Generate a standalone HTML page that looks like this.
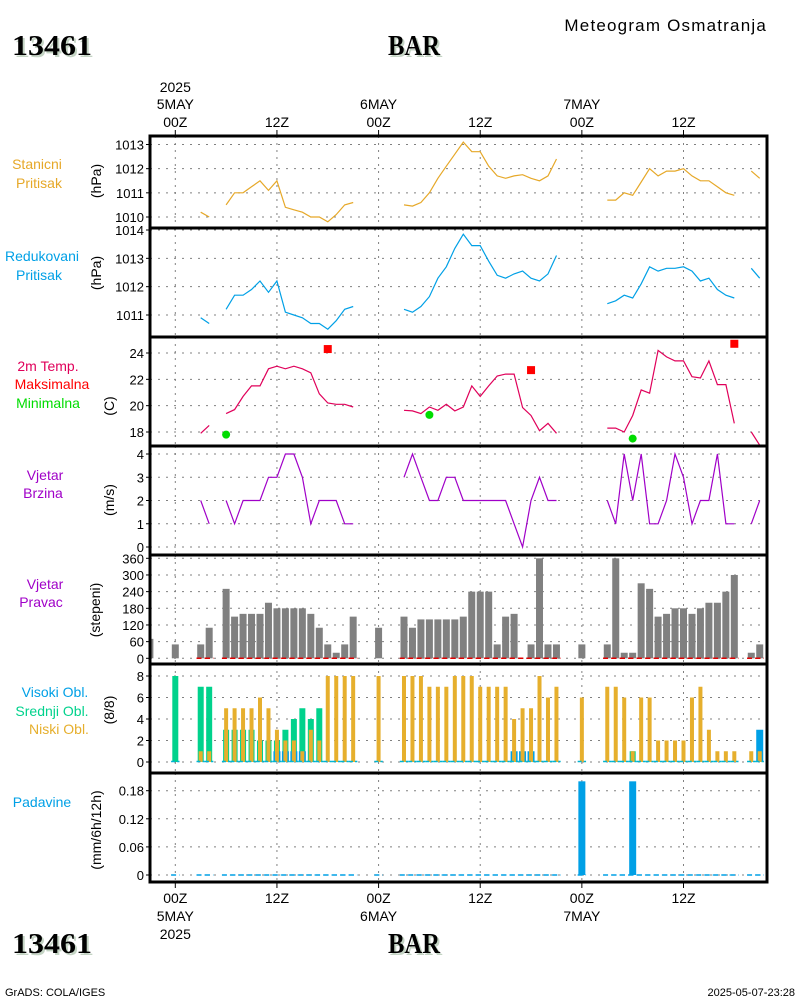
<!DOCTYPE html>
<html><head><meta charset="utf-8"><style>
html,body{margin:0;padding:0;background:#fff;}
svg{display:block;font-family:"Liberation Sans",sans-serif;}
</style></head><body>
<svg id="chart" width="800" height="1000" viewBox="0 0 800 1000" xmlns="http://www.w3.org/2000/svg">
<rect x="0" y="0" width="800" height="1000" fill="#fff"/>
<text x="767" y="31" text-anchor="end" font-size="17" letter-spacing="1.2">Meteogram Osmatranja</text>
<g font-family="Liberation Serif,serif" font-weight="bold" font-size="29">
<text x="14" y="57" fill="#c4d4c4" textLength="80" lengthAdjust="spacingAndGlyphs">13461</text><text x="12" y="55" fill="#000" textLength="80" lengthAdjust="spacingAndGlyphs">13461</text>
<text x="390" y="57" fill="#c4d4c4" textLength="52" lengthAdjust="spacingAndGlyphs">BAR</text><text x="388" y="55" fill="#000" textLength="52" lengthAdjust="spacingAndGlyphs">BAR</text>
</g>
<g font-family="Liberation Serif,serif" font-weight="bold" font-size="29">
<text x="14" y="955" fill="#c4d4c4" textLength="80" lengthAdjust="spacingAndGlyphs">13461</text><text x="12" y="953" fill="#000" textLength="80" lengthAdjust="spacingAndGlyphs">13461</text>
<text x="390" y="955" fill="#c4d4c4" textLength="52" lengthAdjust="spacingAndGlyphs">BAR</text><text x="388" y="953" fill="#000" textLength="52" lengthAdjust="spacingAndGlyphs">BAR</text>
</g>
<text x="5" y="996" font-size="11">GrADS: COLA/IGES</text>
<text x="795" y="996" text-anchor="end" font-size="11">2025-05-07-23:28</text>
<g id="plot"></g>
</svg>
<script>
// ---- data (hourly, index = hours since 2025-05-05 00Z, starting at hourStart) ----
const hourStart = -3;
const stnPress = [null,null,null, null,null,null,1010.2,1010.0,null,1010.5,1011.0,1011.0,1011.25,1011.5,1011.1,1011.5,1010.4,1010.3,1010.2,1010.0,1010.0,1009.8,1010.1,1010.5,1010.6,null,null,null,null,null,1010.5,1010.45,1010.6,1011.0,1011.6,1012.1,1012.6,1013.1,1012.7,1012.7,1012.1,1011.7,1011.6,1011.7,1011.75,1011.6,1011.5,1011.7,1012.4,null,null,null,null,null,1010.7,1010.7,1011.0,1010.9,1011.45,1012.0,1011.7,1011.9,1011.9,1012.0,1011.7,1011.5,1011.5,1011.25,1011.0,1010.9,null,1011.9,1011.6];
const redPress = [null,null,null, null,null,null,1010.9,1010.7,null,1011.2,1011.7,1011.7,1011.9,1012.2,1011.8,1012.2,1011.1,1011.0,1010.9,1010.7,1010.7,1010.5,1010.8,1011.2,1011.3,null,null,null,null,null,1011.2,1011.1,1011.3,1011.65,1012.3,1012.7,1013.35,1013.85,1013.45,1013.45,1012.9,1012.4,1012.3,1012.45,1012.55,1012.3,1012.2,1012.45,1013.1,null,null,null,null,null,1011.4,1011.5,1011.7,1011.6,1012.1,1012.7,1012.55,1012.65,1012.65,1012.7,1012.55,1012.2,1012.3,1011.9,1011.7,1011.6,null,1012.65,1012.3];
const temp2m = [null,null,null, null,null,null,17.9,18.5,null,19.4,19.7,20.7,21.5,21.5,22.8,23.0,22.8,23.0,22.8,22.5,20.9,20.2,20.1,20.1,19.9,null,null,null,null,null,19.65,19.6,19.4,19.9,19.65,20.1,19.6,19.9,21.5,20.7,21.5,22.25,22.4,22.4,19.85,19.25,18.1,18.65,17.9,null,null,null,null,null,18.3,18.3,18.0,19.25,21.2,20.95,24.2,23.7,23.4,23.4,22.2,22.1,23.4,21.6,21.6,18.65,null,18.0,17.0];
const tmaxHours = [18,42,66];
const tmaxValues = [24.3,22.7,24.7];
const tminHours = [6,30,54];
const tminValues = [17.8,19.3,17.5];
const windSpeed = [null,null,null, null,null,null,2,1,null,2,1,2,2,2,3,3,4,4,3,1,2,2,2,1,1,null,null,null,null,null,3,4,3,2,2,3,3,2,2,2,2,2,2,1,0,2,3,2,2,null,null,null,null,null,2,1,4,2,4,1,1,2,4,3,1,2,2,4,1,1,null,1,2];
const windDir = [70,null,null, 50,null,null,50,110,null,250,150,160,160,160,200,180,180,180,180,160,110,50,20,50,150,null,null,110,null,null,150,110,140,140,140,140,140,150,240,240,240,50,150,160,0,50,360,50,50,null,null,50,null,null,50,360,20,20,270,250,150,160,180,180,160,180,200,200,240,300,null,20,50];
const cloudLow = [null,null,null, 0,null,null,1,1,null,5,5,5,5,6,5,3,2,2,1,3,2,8,8,8,8,null,null,8,null,null,8,8,8,7,7,7,8,8,8,7,7,7,7,4,5,5,8,6,7,null,null,6,null,null,7,7,6,1,6,6,2,2,2,2,6,7,3,1,1,1,null,1,1];
const cloudMid = [null,null,null, 8,null,null,7,7,null,3,3,3,3,2,2,2,3,4,5,4,5,0,0,0,0,null,null,0,null,null,0,0,0,0,0,0,0,0,0,0,0,0,0,0,0,0,0,0,0,null,null,0,null,null,0,0,0,1,0,0,0,0,0,0,0,0,0,0,0,0,null,0,0];
const cloudHigh = [null,null,null, 0,null,null,0,0,null,0,0,0,0,0,0,1,1,1,1,0,0,0,0,0,0,null,null,0,null,null,0,0,0,0,0,0,0,0,0,0,0,0,0,1,1,1,0,0,0,null,null,0,null,null,0,0,0,0,0,0,0,0,0,0,0,0,0,0,0,0,null,0,3];
const precipHours = [48,54];
const precipValues = [0.2,0.2];
const pressTicks = [1010,1011,1012,1013];
const redTicks = [1011,1012,1013,1014];
const tempTicks = [18,20,22,24];
const windTicks = [0,1,2,3,4];
const dirTicks = [0,60,120,180,240,300,360];
const cloudTicks = [0,2,4,6,8];
const precipTicks = [0,0.06,0.12,0.18];
const precipTickLabels = ["0","0.06","0.12","0.18"];
const timeTicks = [0,12,24,36,48,60];

// ---- layout ----
const NS="http://www.w3.org/2000/svg";
const plot=document.getElementById('plot');
const L=150,R=767;
const xOf=h=>175.3+8.47*h;
function mk(tag,attrs,parent){const e=document.createElementNS(NS,tag);for(const k in attrs)e.setAttribute(k,attrs[k]);(parent||plot).appendChild(e);return e;}
function lin(v0,y0,v1,y1){return v=>y0+(v-v0)*(y1-y0)/(v1-v0);}
const panels=[
 {name:'station-pressure',top:136,bot:228,y:lin(1010,217,1013,144.5),ticks:pressTicks},
 {name:'reduced-pressure',top:228,bot:337,y:lin(1011,315,1014,230),ticks:redTicks},
 {name:'temperature',top:337,bot:446,y:lin(18,432,24,353),ticks:tempTicks},
 {name:'wind-speed',top:446,bot:555,y:lin(0,547,4,454),ticks:windTicks},
 {name:'wind-direction',top:555,bot:664,y:lin(0,658.3,360,558.3),ticks:dirTicks},
 {name:'cloud-cover',top:664,bot:773,y:lin(0,762,8,676),ticks:cloudTicks},
 {name:'precipitation',top:773,bot:882,y:lin(0,875,0.18,790.7),ticks:precipTicks,labels:precipTickLabels}
];
const clip=mk('clipPath',{id:'pc'});mk('rect',{x:L,y:136,width:R-L,height:882-136},clip);
panels.forEach(p=>{
  const g=mk('g',{});
  
  
  p.ticks.forEach((t,i)=>{
    const y=p.y(t);
    mk('line',{x1:L,x2:R,y1:y,y2:y,stroke:'#808080','stroke-dasharray':'2,6','stroke-width':1},g);
    mk('line',{x1:L-4,x2:L,y1:y,y2:y,stroke:'#000'},g);
    const tx=mk('text',{x:L-6,y:y+5,'text-anchor':'end','font-size':13},g);
    tx.textContent=p.labels?p.labels[i]:String(t);
    
    
  });
  timeTicks.forEach(h=>{mk('line',{x1:xOf(h),x2:xOf(h),y1:p.top,y2:p.bot,stroke:'#808080','stroke-dasharray':'2,5'},g);});
});
const hOf=i=>i+hourStart;
function linePlot(arr,p,color,name){
  let d='';let pen=false;
  arr.forEach((v,i)=>{if(v==null){pen=false;return;}d+=(pen?'L':'M')+xOf(hOf(i)).toFixed(1)+','+p.y(v).toFixed(1);pen=true;});
  const e=mk('path',{d:d,fill:'none',stroke:color,'stroke-width':1.2});
  
  
}
linePlot(stnPress,panels[0],'#e6a828','station-pressure-line');
linePlot(redPress,panels[1],'#00a0e6','reduced-pressure-line');
linePlot(temp2m,panels[2],'#e0005a','temperature-line');
linePlot(windSpeed,panels[3],'#a000c8','wind-speed-line');
tmaxHours.forEach((h,i)=>{const e=mk('rect',{x:xOf(h)-4,y:panels[2].y(tmaxValues[i])-4,width:8,height:8,fill:'#f00'});
 
 });
tminHours.forEach((h,i)=>{const e=mk('circle',{cx:xOf(h),cy:panels[2].y(tminValues[i]),r:4,fill:'#00dc00'});
 
 });
// direction bars
const dg=mk('g',{'clip-path':'url(#pc)'});
windDir.forEach((v,i)=>{if(v==null)return;const p=panels[4];const y=p.y(v);
 const e=mk('rect',{x:xOf(hOf(i))-3.5,y:y,width:7,height:Math.max(0,p.y(0)-y),fill:'#808080'},dg);
 
 
 if(temp2m[i]!=null&&hOf(i)>=3){mk('line',{x1:xOf(hOf(i))-4.2,x2:xOf(hOf(i))+4.2,y1:p.y(0),y2:p.y(0),stroke:'#e00000','stroke-width':1.5,'stroke-dasharray':'5,3'},dg);}
});
// clouds
const cp=panels[5];
cloudLow.forEach((v,i)=>{if(v==null)return;const x=xOf(hOf(i));const y0=cp.y(0);
 const m=cloudMid[i],hi=cloudHigh[i];
 if(m>0){const e=mk('rect',{x:x-3,y:cp.y(m),width:6,height:y0-cp.y(m),fill:'#00d28c'});
  
  }
 if(hi>0){const e=mk('rect',{x:x-3.5,y:cp.y(hi),width:7,height:y0-cp.y(hi),fill:'#00a0e6'});
  
  }
 if(v>0){const e=mk('rect',{x:x-2,y:cp.y(v),width:4,height:y0-cp.y(v),fill:'#e6af2d'});
  
  }
 mk('line',{x1:x-4.2,x2:x+4.2,y1:y0-0.5,y2:y0-0.5,stroke:'#00b4d2','stroke-width':1.5,'stroke-dasharray':'4,2'});
 mk('line',{x1:x-4.2,x2:x+4.2,y1:panels[6].y(0),y2:panels[6].y(0),stroke:'#00a0e6','stroke-width':1.5,'stroke-dasharray':'5,3'});
});
precipHours.forEach((h,i)=>{const p=panels[6];const y=p.y(precipValues[i]);
 const e=mk('rect',{x:xOf(h)-3.5,y:y,width:7,height:p.y(0)-y,fill:'#00a0e6'});
 
 });
// frames
panels.forEach(p=>{mk('rect',{x:L,y:p.top,width:R-L,height:p.bot-p.top,fill:'none',stroke:'#000','stroke-width':3});});
// time axis labels
function tl(x,y,s,name){const e=mk('text',{x:x,y:y,'text-anchor':'middle','font-size':14});e.textContent=s;
 
 }
const topLbl=[["00Z","5MAY","2025"],["12Z"],["00Z","6MAY"],["12Z"],["00Z","7MAY"],["12Z"]];
timeTicks.forEach((h,i)=>{const x=xOf(h);const a=topLbl[i];
 tl(x,127,a[0],'top-time-label');if(a[1])tl(x,109,a[1],'top-date-label');if(a[2])tl(x,92,a[2],'top-year-label');
 tl(x,903,a[0],'bottom-time-label');if(a[1])tl(x,921,a[1],'bottom-date-label');if(a[2])tl(x,939,a[2],'bottom-year-label');
 mk('line',{x1:x,x2:x,y1:130,y2:136,stroke:'#000'});mk('line',{x1:x,x2:x,y1:882,y2:888,stroke:'#000'});
});
// left labels
function lab(x,y,s,c,name){const e=mk('text',{x:x,y:y,'text-anchor':'middle','font-size':14,fill:c});e.textContent=s;
 
 }
lab(37,169,'Stanicni','#e6a828','station-pressure-label');lab(39,188,'Pritisak','#e6a828','station-pressure-label');
lab(42,261,'Redukovani','#00a0e6','reduced-pressure-label');lab(39,280,'Pritisak','#00a0e6','reduced-pressure-label');
lab(48,371,'2m Temp.','#e0005a','temp-label');lab(52,389,'Maksimalna','#f00','max-temp-label');lab(48,408,'Minimalna','#00dc00','min-temp-label');
lab(45,480,'Vjetar','#a000c8','wind-speed-label');lab(43,498,'Brzina','#a000c8','wind-speed-label');
lab(45,589,'Vjetar','#a000c8','wind-dir-label');lab(41,607,'Pravac','#a000c8','wind-dir-label');
lab(55,697,'Visoki Obl.','#00a0e6','high-cloud-label');lab(52,716,'Srednji Obl.','#00d28c','mid-cloud-label');lab(59,734,'Niski Obl.','#e6af2d','low-cloud-label');
lab(42,807,'Padavine','#00a0e6','precip-label');
function unit(x,y,s,name){const e=mk('text',{x:x,y:y,'text-anchor':'middle','font-size':14,transform:'rotate(-90 '+x+' '+y+')'});e.textContent=s;
 
 }
unit(101,181,'(hPa)','station-pressure-unit');unit(101,273,'(hPa)','reduced-pressure-unit');
unit(114,406,'(C)','temp-unit');unit(114,500,'(m/s)','wind-speed-unit');
unit(100,610,'(stepeni)','wind-dir-unit');unit(114,710,'(8/8)','cloud-unit');unit(101,830,'(mm/6h/12h)','precip-unit');
</script>
</body></html>
